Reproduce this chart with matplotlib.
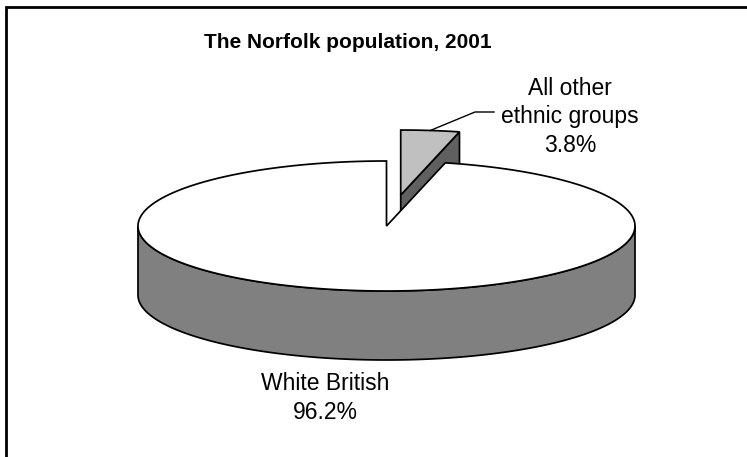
import numpy as np
import matplotlib
matplotlib.use("Agg")
import matplotlib.pyplot as plt
from matplotlib.patches import Polygon

plt.rcParams['font.family'] = ['Liberation Sans', 'DejaVu Sans']

# Norfolk population by ethnic group, 2001 (percent)
groups = ["All other\nethnic groups", "White British"]
shares = [3.8, 96.2]
explode = [0.48, 0.0]
top_colors = ["#c0c0c0", "#ffffff"]
side_colors = ["#606060", "#808080"]
title = "The Norfolk population, 2001"

# pie layout (canvas is laid out in pixels, y pointing down)
cx, cy = 386.5, 226.0
rx, ry = 248.5, 65.0
depth = 69.0

fig = plt.figure(figsize=(7.47, 4.57), dpi=100)
ax = fig.add_axes([0, 0, 1, 1])
ax.set_xlim(0, 747)
ax.set_ylim(457, 0)
ax.axis("off")


def rim(theta, ox, oy, dz=0.0):
    # theta in degrees, clockwise from 12 o'clock
    t = np.radians(theta)
    return np.column_stack([ox + rx * np.sin(t), oy - ry * np.cos(t) + dz])


fracs = np.array(shares) / np.sum(shares)
ends = np.cumsum(fracs) * 360
starts = ends - fracs * 360

slices = []
for i in range(len(shares)):
    mid = np.radians((starts[i] + ends[i]) / 2)
    ox = cx + explode[i] * rx * np.sin(mid)
    oy = cy - explode[i] * ry * np.cos(mid)
    slices.append((starts[i], ends[i], ox, oy))

lw = 1.25
# back slices first (exploded one sits behind the big one)
order = sorted(range(len(shares)), key=lambda k: slices[k][3])
for i in order:
    a0, a1, ox, oy = slices[i]
    # cut face on the clockwise edge
    if a1 < 360:
        p = rim(np.array([a1]), ox, oy)[0]
        face = [(ox, oy), tuple(p), (p[0], p[1] + depth), (ox, oy + depth)]
        ax.add_patch(Polygon(face, closed=True, facecolor=side_colors[i],
                             edgecolor="black", lw=lw, zorder=2 + i))
    # outer wall on the front half
    w0, w1 = max(a0, 90), min(a1, 270)
    if w1 > w0:
        th = np.linspace(w0, w1, 200)
        top = rim(th, ox, oy)
        bot = rim(th[::-1], ox, oy, depth)
        ax.add_patch(Polygon(np.vstack([top, bot]), closed=True,
                             facecolor=side_colors[i], edgecolor="black",
                             lw=lw, zorder=2 + i))
    # top face
    th = np.linspace(a0, a1, 300)
    pts = np.vstack([[ox, oy], rim(th, ox, oy)])
    ax.add_patch(Polygon(pts, closed=True, facecolor=top_colors[i],
                         edgecolor="black", lw=lw, zorder=2 + i))

# labels
fs = 16.5
a0, a1, ox, oy = slices[0]
ax.text(570, 117, groups[0] + "\n{:.1f}%".format(shares[0]),
        ha="center", va="center", fontsize=fs, linespacing=1.3, zorder=10)
anchor = rim(np.array([(a0 + a1) / 2]), ox, oy)[0]
ax.plot([anchor[0], 475, 494], [anchor[1], 112, 112], color="black",
        lw=1.0, zorder=10)

ax.text(325, 398, groups[1] + "\n{:.1f}%".format(shares[1]),
        ha="center", va="center", fontsize=fs, linespacing=1.3, zorder=10)

ax.text(348, 43, title, ha="center", va="center", fontsize=15,
        fontweight="bold", zorder=10)

# chart area border (left and top edges)
ax.plot([6, 6, 747], [457, 7, 7], color="black", lw=2.0,
        solid_joinstyle="miter", zorder=10)

fig.savefig("out.png", dpi=100)
